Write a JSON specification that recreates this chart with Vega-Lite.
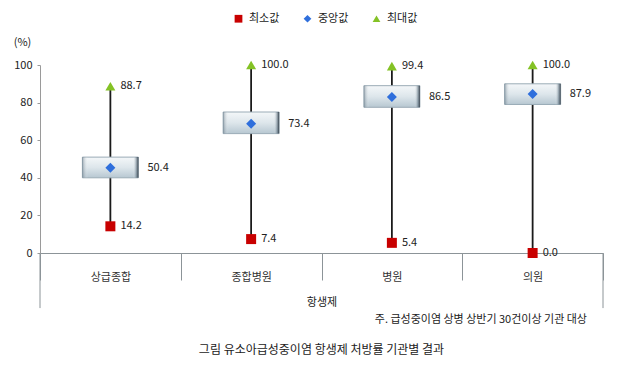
{
  "$schema": "https://vega.github.io/schema/vega-lite/v6.json",
  "width": 563,
  "height": 188,
  "autosize": "none",
  "padding": {"left": 40, "top": 65, "right": 18, "bottom": 119},
  "background": "white",
  "config": {
    "view": {"stroke": null},
    "font": "Noto Sans CJK KR",
    "text": {"font": "Noto Sans CJK KR"},
    "axisY": {
      "values": [0, 20, 40, 60, 80, 100],
      "tickCount": 6,
      "labelOverlap": false,
      "labelFlush": false,
      "titleAngle": 0,
      "titleX": -18,
      "titleY": -23,
      "titleAlign": "center",
      "titleBaseline": "middle",
      "titleFontWeight": "normal",
      "titleFontSize": 11,
      "titleColor": "#222222",
      "tickSize": 3,
      "labelPadding": 5,
      "labelFontSize": 11,
      "labelColor": "#222222",
      "domainColor": "#9a9a9a",
      "tickColor": "#9a9a9a",
      "grid": false
    }
  },
  "title": {
    "text": "그림  유소아급성중이염 항생제  처방률 기관별 결과",
    "orient": "bottom",
    "anchor": "middle",
    "offset": 20,
    "fontSize": 12,
    "fontWeight": "normal",
    "color": "#222222",
    "font": "Noto Sans CJK KR"
  },
  "datasets": {
    "boxes": [
      {"org": "상급종합", "min": 14.2, "max": 88.7, "q1": 40.0, "q3": 51.0},
      {"org": "종합병원", "min": 7.4, "max": 100.0, "q1": 63.5, "q3": 75.0},
      {"org": "병원", "min": 5.4, "max": 99.4, "q1": 77.5, "q3": 89.0},
      {"org": "의원", "min": 0.0, "max": 100.0, "q1": 79.0, "q3": 90.0}
    ],
    "points": [
      {"org": "상급종합", "stat": "최소값", "pos": 14.2, "value": 14.2},
      {"org": "상급종합", "stat": "중앙값", "pos": 45.3, "value": 50.4},
      {"org": "상급종합", "stat": "최대값", "pos": 88.7, "value": 88.7},
      {"org": "종합병원", "stat": "최소값", "pos": 7.4, "value": 7.4},
      {"org": "종합병원", "stat": "중앙값", "pos": 68.8, "value": 73.4},
      {"org": "종합병원", "stat": "최대값", "pos": 100.0, "value": 100.0},
      {"org": "병원", "stat": "최소값", "pos": 5.4, "value": 5.4},
      {"org": "병원", "stat": "중앙값", "pos": 83.0, "value": 86.5},
      {"org": "병원", "stat": "최대값", "pos": 99.4, "value": 99.4},
      {"org": "의원", "stat": "최소값", "pos": 0.0, "value": 0.0},
      {"org": "의원", "stat": "중앙값", "pos": 84.6, "value": 87.9},
      {"org": "의원", "stat": "최대값", "pos": 100.0, "value": 100.0}
    ]
  },
  "layer": [
    {
      "data": {"name": "boxes"},
      "mark": {"type": "rule", "color": "#1a1a1a", "strokeWidth": 1.8},
      "encoding": {
        "x": {
          "field": "org", "type": "nominal",
          "scale": {"domain": ["상급종합", "종합병원", "병원", "의원"], "paddingInner": 0, "paddingOuter": 0},
          "axis": {
            "title": "항생제",
            "titleY": 49,
            "titleBaseline": "middle",
            "titleFontWeight": "normal",
            "titleFontSize": 11,
            "titleColor": "#222222",
            "tickBand": "extent",
            "tickSize": 27,
            "labelPadding": -3,
            "labelBaseline": "middle",
            "labelAngle": 0,
            "labelFontSize": 11,
            "labelColor": "#333333",
            "domainColor": "#8c9498",
            "tickColor": "#8c9498",
            "grid": false
          }
        },
        "y": {
          "field": "min", "type": "quantitative",
          "scale": {"domain": [0, 100], "nice": false},
          "axis": {"title": "(%)", "values": [0, 20, 40, 60, 80, 100], "labelOverlap": false}
        },
        "y2": {"field": "max"}
      }
    },
    {
      "data": {"name": "boxes"},
      "mark": {
        "type": "bar",
        "width": 56,
        "fill": {
          "gradient": "linear", "x1": 0, "y1": 0, "x2": 0, "y2": 1,
          "stops": [
            {"offset": 0, "color": "#f4f7f9"},
            {"offset": 0.5, "color": "#dde6eb"},
            {"offset": 1, "color": "#b7c7d1"}
          ]
        },
        "stroke": "#9aabb6",
        "strokeWidth": 1
      },
      "encoding": {
        "x": {"field": "org", "type": "nominal"},
        "y": {"field": "q1", "type": "quantitative", "axis": {"title": "(%)", "values": [0, 20, 40, 60, 80, 100], "labelOverlap": false}},
        "y2": {"field": "q3"}
      }
    },
    {
      "data": {"name": "boxes"},
      "mark": {
        "type": "bar",
        "width": 56,
        "fill": {
          "gradient": "linear", "x1": 0, "y1": 0, "x2": 1, "y2": 0,
          "stops": [
            {"offset": 0, "color": "rgba(90,110,125,0.55)"},
            {"offset": 0.1, "color": "rgba(255,255,255,0)"},
            {"offset": 0.9, "color": "rgba(255,255,255,0)"},
            {"offset": 0.96, "color": "rgba(90,110,125,0.5)"},
            {"offset": 1, "color": "rgba(40,50,60,0.9)"}
          ]
        },
        "strokeWidth": 0
      },
      "encoding": {
        "x": {"field": "org", "type": "nominal"},
        "y": {"field": "q1", "type": "quantitative", "axis": {"title": "(%)", "values": [0, 20, 40, 60, 80, 100], "labelOverlap": false}},
        "y2": {"field": "q3"}
      }
    },
    {
      "data": {"name": "points"},
      "mark": {"type": "point", "filled": true, "opacity": 1, "size": 100},
      "encoding": {
        "x": {"field": "org", "type": "nominal"},
        "y": {"field": "pos", "type": "quantitative", "axis": {"title": "(%)", "values": [0, 20, 40, 60, 80, 100], "labelOverlap": false}},
        "color": {
          "field": "stat", "type": "nominal",
          "scale": {"domain": ["최소값", "중앙값", "최대값"], "range": ["#c80000", "#2f6fdc", "#84c225"]},
          "legend": {
            "title": null, "orient": "none", "legendX": 193, "legendY": -52,
            "direction": "horizontal", "columnPadding": 22, "symbolSize": 60,
            "labelFontSize": 11, "labelColor": "#222222", "labelOffset": 5
          }
        },
        "shape": {
          "field": "stat", "type": "nominal",
          "scale": {"domain": ["최소값", "중앙값", "최대값"], "range": ["square", "diamond", "triangle-up"]},
          "legend": {
            "title": null, "orient": "none", "legendX": 193, "legendY": -52,
            "direction": "horizontal", "columnPadding": 22, "symbolSize": 60,
            "labelFontSize": 11, "labelColor": "#222222", "labelOffset": 5
          }
        }
      }
    },
    {
      "data": {"name": "points"},
      "transform": [{"filter": "datum.stat !== '중앙값'"}],
      "mark": {"type": "text", "align": "left", "baseline": "middle", "dx": 10, "fontSize": 11, "color": "#222222"},
      "encoding": {
        "x": {"field": "org", "type": "nominal"},
        "y": {"field": "pos", "type": "quantitative", "axis": {"title": "(%)", "values": [0, 20, 40, 60, 80, 100], "labelOverlap": false}},
        "text": {"field": "value", "type": "quantitative", "format": ".1f"}
      }
    },
    {
      "data": {"name": "points"},
      "transform": [{"filter": "datum.stat === '중앙값'"}],
      "mark": {"type": "text", "align": "left", "baseline": "middle", "dx": 37, "fontSize": 11, "color": "#222222"},
      "encoding": {
        "x": {"field": "org", "type": "nominal"},
        "y": {"field": "pos", "type": "quantitative", "axis": {"title": "(%)", "values": [0, 20, 40, 60, 80, 100], "labelOverlap": false}},
        "text": {"field": "value", "type": "quantitative", "format": ".1f"}
      }
    },
    {
      "data": {"name": "boxes"},
      "transform": [{"filter": "datum.org === '상급종합'"}],
      "mark": {"type": "rule", "color": "#8c9498", "strokeWidth": 1},
      "encoding": {
        "x": {"field": "org", "type": "nominal", "bandPosition": 0},
        "y": {"datum": 0, "type": "quantitative", "axis": {"title": "(%)", "values": [0, 20, 40, 60, 80, 100], "labelOverlap": false}},
        "y2": {"datum": -29.3}
      }
    },
    {
      "data": {"name": "boxes"},
      "transform": [{"filter": "datum.org === '의원'"}],
      "mark": {"type": "rule", "color": "#8c9498", "strokeWidth": 1},
      "encoding": {
        "x": {"field": "org", "type": "nominal", "bandPosition": 1},
        "y": {"datum": 0, "type": "quantitative", "axis": {"title": "(%)", "values": [0, 20, 40, 60, 80, 100], "labelOverlap": false}},
        "y2": {"datum": -29.3}
      }
    },
    {
      "data": {"name": "boxes"},
      "transform": [{"filter": "datum.org === '의원'"}],
      "mark": {"type": "text", "align": "right", "baseline": "middle", "dx": -16, "fontSize": 11, "color": "#222222"},
      "encoding": {
        "x": {"field": "org", "type": "nominal", "bandPosition": 1},
        "y": {"datum": -35.6, "type": "quantitative", "axis": {"title": "(%)", "values": [0, 20, 40, 60, 80, 100], "labelOverlap": false}},
        "text": {"value": "주. 급성중이염 상병 상반기 30건이상 기관 대상"}
      }
    }
  ]
}
